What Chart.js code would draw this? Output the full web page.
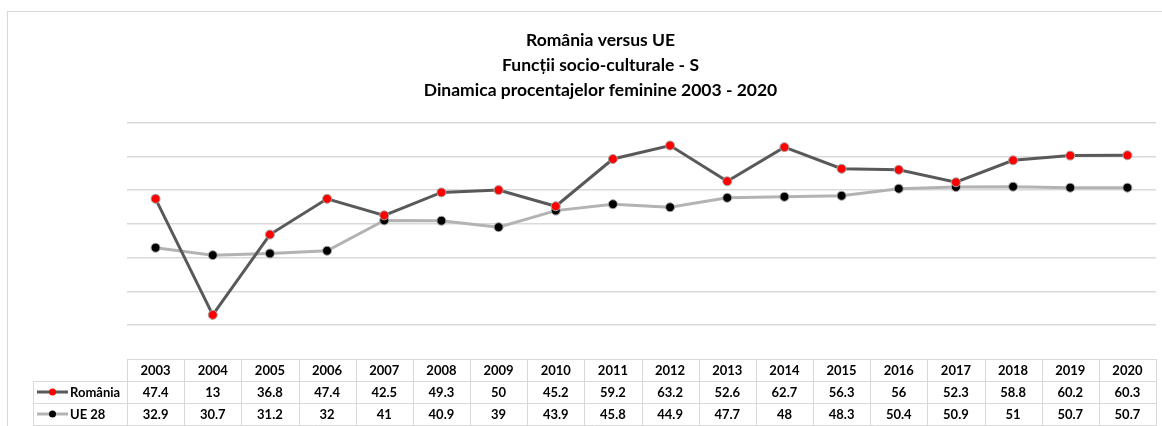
<!DOCTYPE html>
<html>
<head>
<meta charset="utf-8">
<script src="https://cdn.jsdelivr.net/npm/chart.js@4.4.1/dist/chart.umd.min.js"></script>
<style>
  html, body { margin: 0; padding: 0; background: #fff; }
  #wrap { position: relative; width: 1162px; height: 426px; }
  #frame { position: absolute; left: 7px; top: 11px; right: -2px; bottom: -2px; border: 1px solid #d9d9d9; }
</style>
</head>
<body>
<div id="wrap">
  <div id="frame"></div>
  <canvas id="lineChart" width="1162" height="426"></canvas>
</div>
<script>
// years (x-axis)
const years = ['2003', '2004', '2005', '2006', '2007', '2008', '2009', '2010', '2011',
               '2012', '2013', '2014', '2015', '2016', '2017', '2018', '2019', '2020'];
// female percentages
const romania = [47.4, 13, 36.8, 47.4, 42.5, 49.3, 50, 45.2, 59.2, 63.2, 52.6, 62.7, 56.3, 56, 52.3, 58.8, 60.2, 60.3];
const ue28 = [32.9, 30.7, 31.2, 32, 41, 40.9, 39, 43.9, 45.8, 44.9, 47.7, 48, 48.3, 50.4, 50.9, 51, 50.7, 50.7];
const titleLines = ['România versus UE', 'Funcții socio-culturale - S', 'Dinamica procentajelor feminine 2003 - 2020'];

const gridColor = '#d9d9d9';
const tableFont = 'bold 13px Lato, "Open Sans", sans-serif';

// draws the data table under the plot, columns taken from the x scale
const dataTable = {
    id: 'dataTable',
    afterDraw(chart) {
        const ctx = chart.ctx;
        const x = chart.scales.x;
        const area = chart.chartArea;
        const rowTop = 359, rowH = 22, labelLeft = 33;
        const colW = x.getPixelForValue(1) - x.getPixelForValue(0);
        const right = area.right;
        ctx.save();
        ctx.strokeStyle = gridColor;
        ctx.lineWidth = 1;
        // horizontal lines
        ctx.beginPath();
        ctx.moveTo(area.left, rowTop + 0.5); ctx.lineTo(right, rowTop + 0.5);
        for (let r = 1; r <= 3; r++) {
            const y = rowTop + r * rowH + 0.5;
            ctx.moveTo(labelLeft, y); ctx.lineTo(right, y);
        }
        // vertical lines
        ctx.moveTo(labelLeft + 0.5, rowTop + rowH); ctx.lineTo(labelLeft + 0.5, rowTop + 3 * rowH + 2);
        for (let i = 0; i <= years.length; i++) {
            const vx = Math.round(x.getPixelForValue(i) - colW / 2) + 0.5;
            ctx.moveTo(vx, rowTop); ctx.lineTo(vx, rowTop + 3 * rowH + 2);
        }
        ctx.stroke();

        ctx.fillStyle = '#000';
        ctx.font = tableFont;
        ctx.textAlign = 'center';
        ctx.textBaseline = 'middle';
        years.forEach((yr, i) => {
            const cx = x.getPixelForValue(i);
            ctx.fillText(yr, cx, rowTop + rowH / 2 + 1);
            ctx.fillText(String(romania[i]), cx, rowTop + rowH * 1.5 + 1);
            ctx.fillText(String(ue28[i]), cx, rowTop + rowH * 2.5 + 1);
        });

        // legend keys
        chart.data.datasets.forEach((ds, r) => {
            const cy = rowTop + rowH * (1.5 + r);
            ctx.strokeStyle = ds.borderColor;
            ctx.lineWidth = 3;
            ctx.beginPath();
            ctx.moveTo(37, cy); ctx.lineTo(68, cy);
            ctx.stroke();
            ctx.fillStyle = ds.pointBackgroundColor;
            ctx.beginPath();
            ctx.arc(52.5, cy, 3.5, 0, Math.PI * 2);
            ctx.fill();
            ctx.fillStyle = '#000';
            ctx.textAlign = 'left';
            ctx.fillText(ds.label, 70, cy + 1);
        });
        ctx.restore();
    }
};

const ctx = document.getElementById('lineChart').getContext('2d');
const lineChart = new Chart(ctx, {
    type: 'line',
    data: {
        labels: years,
        datasets: [{
            label: 'România',
            data: romania,
            borderColor: '#595959',
            borderWidth: 3,
            pointBackgroundColor: '#ff0000',
            pointBorderColor: '#a6a6a6',
            pointBorderWidth: 1,
            pointRadius: 4.5,
            tension: 0
        }, {
            label: 'UE 28',
            data: ue28,
            borderColor: '#b3b3b3',
            borderWidth: 3,
            pointBackgroundColor: '#000000',
            pointBorderColor: '#a6a6a6',
            pointBorderWidth: 1,
            pointRadius: 4.5,
            tension: 0
        }]
    },
    options: {
        responsive: false,
        animation: false,
        layout: { padding: { left: 45, right: 6, top: 14, bottom: 101 } },
        plugins: {
            legend: { display: false },
            tooltip: { enabled: false },
            title: {
                display: true,
                text: titleLines,
                color: '#000',
                font: { family: 'Lato, "Open Sans", sans-serif', size: 17.5, weight: 'bold', lineHeight: 1.42 },
                padding: { top: 14, bottom: 20 }
            }
        },
        scales: {
            x: {
                display: false,
                offset: true
            },
            y: {
                min: 10,
                max: 70,
                ticks: { display: false, stepSize: 10 },
                border: { display: false },
                grid: { color: gridColor, lineWidth: 1.5, drawTicks: false },
                afterFit(scale) { scale.width = 82; }
            }
        }
    },
    plugins: [dataTable]
});
</script>
</body>
</html>
